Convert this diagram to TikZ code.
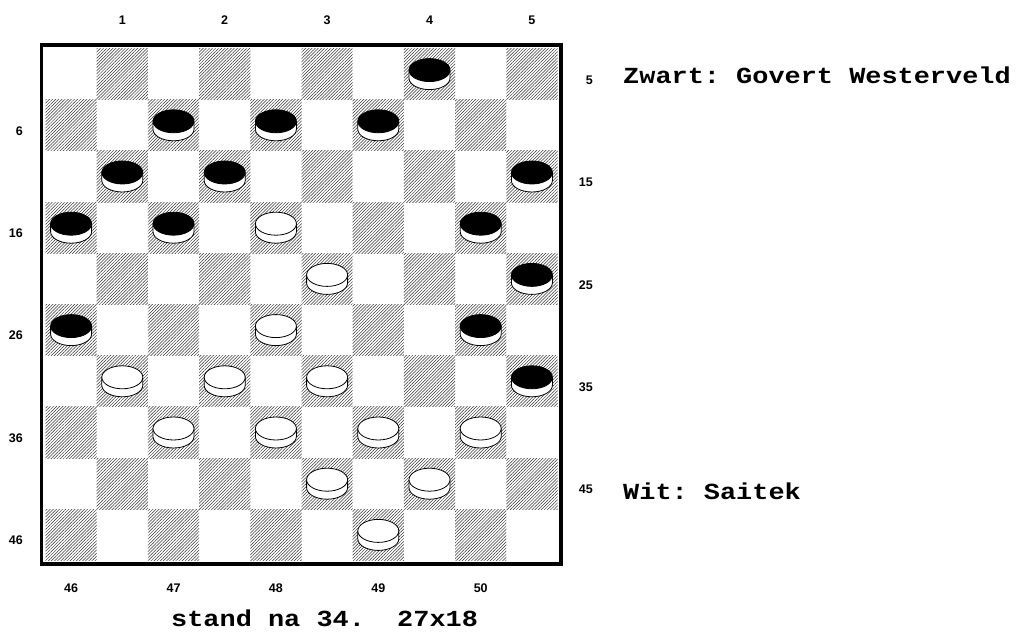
\documentclass[tikz,border=0pt]{standalone}
\usepackage{fontspec}
\setmainfont{Liberation Sans}
\newfontfamily\boardmono[FakeStretch=1.17]{Liberation Mono}
\usetikzlibrary{patterns.meta}

\begin{document}
\begin{tikzpicture}[
    x=1pt, y=1pt,
    every node/.style={inner sep=0pt},
    numlbl/.style={font=\fontsize{12.5}{12.5}\selectfont\bfseries},
    caption/.style={font=\boardmono\fontsize{23}{23}\selectfont\bfseries\frenchspacing, anchor=base west},
    darksq/.style={pattern={Lines[angle=45, distance=2.2pt, line width=0.5pt]}, pattern color=black!80},
    disc/.style={draw=black, line width=0.8pt}
]
\useasboundingbox (0,0) rectangle (1016,631);
\def\sq{51.2}
\def\bx{45.5}
\def\by{582.5}

% hatched squares
\foreach \r in {1,...,10}
  \foreach \c in {1,...,10} {
    \pgfmathtruncatemacro\dark{mod(\r+\c,2)}
    \ifnum\dark=1
      \path[darksq] ({\bx+(\c-1)*\sq},{\by-\r*\sq}) rectangle ++(\sq,\sq);
    \fi
  }
\draw[line width=3.4pt] (41.7,67) rectangle (561,586);

% pieces
\foreach \n/\col in {4/black,7/black,8/black,9/black,11/black,12/black,15/black,
    16/black,17/black,20/black,25/black,26/black,30/black,35/black,
    18/white,23/white,28/white,31/white,32/white,33/white,37/white,
    38/white,39/white,40/white,43/white,44/white,49/white} {
  \pgfmathtruncatemacro\r{ceil(\n/5)}
  \pgfmathtruncatemacro\k{\n-5*(\r-1)}
  \pgfmathtruncatemacro\c{mod(\r,2)==1 ? 2*\k : 2*\k-1}
  \pgfmathsetmacro\cx{\bx+(\c-0.5)*\sq}
  \pgfmathsetmacro\cy{\by-(\r-0.5)*\sq}
  \filldraw[disc, fill=white] (\cx-20.5,\cy+4) -- (\cx-20.5,\cy-4)
    arc[start angle=180, end angle=360, x radius=20.5, y radius=11.5] -- (\cx+20.5,\cy+4);
  \filldraw[disc, fill=\col] (\cx,\cy+4) ellipse[x radius=20.5, y radius=11.5];
}

% square numbers
\foreach \k in {1,...,5} {
  \node[numlbl] (top\k) at ({\bx+(2*\k-0.5)*\sq},611) {\k};
  \pgfmathtruncatemacro\b{45+\k}
  \node[numlbl] (bot\k) at ({\bx+(2*\k-1.5)*\sq},42.5) {\b};
  \pgfmathtruncatemacro\lft{10*\k-4}
  \node[numlbl, anchor=east] (left\k) at (23,{\by-(2*\k-0.5)*\sq-5.5}) {\lft};
  \pgfmathtruncatemacro\rgt{10*\k-5}
  \node[numlbl, anchor=east] (right\k) at (593,{\by-(2*\k-1.5)*\sq-6}) {\rgt};
}

\node[caption] (zwart) at (623,547.7) {Zwart: Govert Westerveld};
\node[caption] (wit) at (623,131.7) {Wit: Saitek};
\node[caption] (stand) at (171,4.3) {stand na 34.\ \ 27x18};
\end{tikzpicture}
\end{document}
